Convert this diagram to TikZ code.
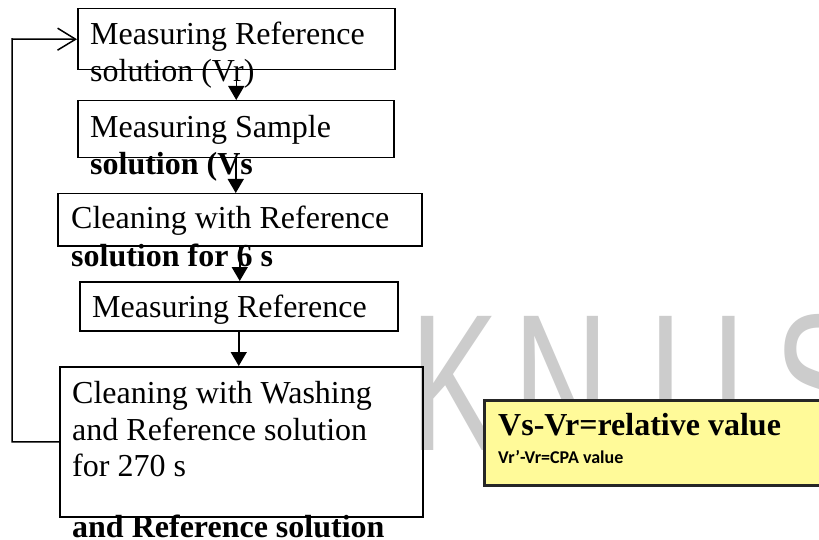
\documentclass[tikz,border=0pt]{standalone}
\usepackage{fontspec}
\setmainfont{Liberation Serif}
\newfontfamily\calibrifont{Carlito}
\newfontfamily\wmarkfont{Liberation Sans}
\usetikzlibrary{arrows.meta}

\begin{document}
\begin{tikzpicture}[x=1pt,y=-1pt,
  every node/.style={anchor=base west,inner sep=0pt},
  txt/.style={font=\fontsize{32}{36.5}\selectfont},
  stepbox/.style={draw,line width=1.5pt,anchor=north west},
  notebox/.style={draw=black!85,line width=3pt,fill=yellow!40,anchor=north west},
  wmark/.style={text=gray!40,font=\wmarkfont\fontsize{195}{195}\selectfont},
  flow/.style={line width=1.5pt,-{Triangle[length=14pt,width=16pt]}},
  back/.style={line width=1.5pt,-{Straight Barb[length=18pt,width=22pt]}}]
  \useasboundingbox (0,0) rectangle (819,540);
  \clip (0,0) rectangle (819,540);
  \fill[white] (0,0) rectangle (819,540);
  % watermark
  \foreach \ltr/\xx in {K/410,N/513,U/649,S/774}
    \node[wmark] (w\ltr) at (\xx,450) {\scalebox{0.68}[1]{\ltr}};
  % boxes
  \node[stepbox,minimum width=317pt,minimum height=61pt] (b1) at (77,8) {};
  \node[stepbox,minimum width=316pt,minimum height=57pt] (b2) at (77,100) {};
  \node[stepbox,minimum width=364pt,minimum height=52pt] (b3) at (57,193) {};
  \node[stepbox,minimum width=318pt,minimum height=49pt] (b4) at (79,281) {};
  \node[stepbox,minimum width=363pt,minimum height=150pt] (b5) at (59,366) {};
  \node[notebox,minimum width=350pt,minimum height=85pt] (note) at (483,399) {};
  % texts
  \node[txt] (t1a) at (90,45) {Measuring Reference};
  \node[txt] (t1b) at (90,82) {solution (Vr)};
  \node[txt] (t2a) at (90,138) {Measuring Sample};
  \node[txt] (t2b) at (90,175) {\bfseries solution (Vs};
  \node[txt] (t3a) at (71,229) {Cleaning with Reference};
  \node[txt] (t3b) at (71,266) {\bfseries solution for 6 s};
  \node[txt] (t4a) at (92,317) {Measuring Reference};
  \node[txt] (t5a) at (72,403) {Cleaning with Washing};
  \node[txt] (t5b) at (72,440) {and Reference solution};
  \node[txt] (t5c) at (72,476) {for 270 s};
  \node[txt] (t6) at (72,537) {\bfseries and Reference solution};
  \node[txt] (n1) at (498,435) {\bfseries Vs-Vr=relative value};
  \node (n2) at (498,463) {\calibrifont\bfseries\fontsize{18}{20}\selectfont Vr’-Vr=CPA value};
  % arrows
  \draw[flow] (b1.south) -- (b1.south |- b2.north);
  \draw[flow] (b2.south) -- (b2.south |- b3.north);
  \draw[flow] (b3.south) -- (b3.south |- b4.north);
  \draw[flow] (b4.south) -- (b4.south |- b5.north);
  \coordinate (turn) at (12,39);
  \draw[back] (b5.west) -| (turn) -- (b1.west);
\end{tikzpicture}
\end{document}
